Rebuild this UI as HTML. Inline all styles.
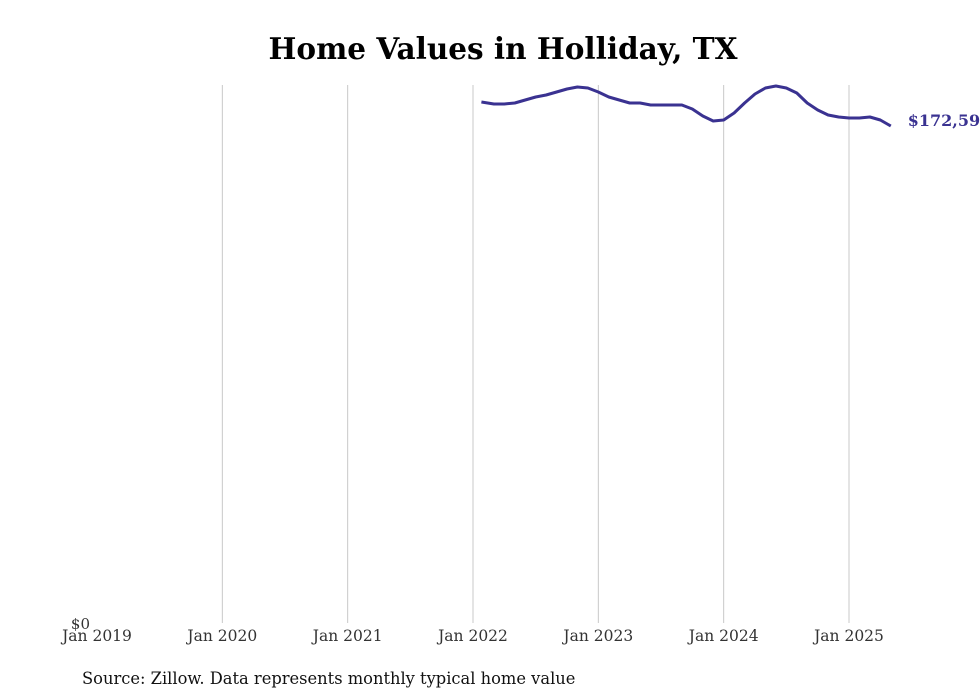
<!DOCTYPE html>
<html><head><meta charset="utf-8"><style>
body{margin:0;background:#fff;}
svg{display:block;font-family:"DejaVu Serif","Liberation Serif",serif;}
</style></head><body>
<svg id="chart" width="980" height="699">
<text x="503" y="59" text-anchor="middle" font-size="29.5" font-weight="bold">Home Values in Holliday, TX</text>
<g id="grid"></g>
<g id="xlabels"></g>
<text x="90" y="629" text-anchor="end" font-size="15" fill="#333">$0</text>
<path id="line" fill="none" stroke="#3a3291" stroke-width="3" stroke-linejoin="round"/>
<text id="endlabel" font-size="16" font-weight="bold" fill="#3a3291"></text>
<text x="82" y="684" font-size="16.3" fill="#111">Source: Zillow. Data represents monthly typical home value</text>
</svg>
<script>
const yearTicks = ["Jan 2019","Jan 2020","Jan 2021","Jan 2022","Jan 2023","Jan 2024","Jan 2025"];
const startMonthIndex = 37; // months since Jan 2019 (Feb 2022)
const values = [180928,180233,180233,180580,181622,182664,183359,184400,185442,186137,185789,184400,182664,181622,180580,180580,179886,179886,179886,179886,178497,176066,174330,174677,177108,180580,183706,185789,186484,185789,184053,180580,178150,176413,175719,175371,175371,175719,174677,172594];
const x0=97, pxPerMonth=(849-97)/72, yBase=623, yTop=85, yMax=186831;
const X=m=>x0+m*pxPerMonth;
const Y=v=>yBase-(v/yMax)*(yBase-yTop);
const svg=document.getElementById('chart');
const ns='http://www.w3.org/2000/svg';
const grid=document.getElementById('grid'), xl=document.getElementById('xlabels');
yearTicks.forEach((t,i)=>{
  const x=X(i*12);
  if(i>0){
    const l=document.createElementNS(ns,'line');
    l.setAttribute('x1',x);l.setAttribute('x2',x);l.setAttribute('y1',yTop);l.setAttribute('y2',yBase);
    l.setAttribute('stroke','#c8c8c8');l.setAttribute('stroke-width','1');
    
    
    grid.appendChild(l);
  }
  const tx=document.createElementNS(ns,'text');
  tx.setAttribute('x',x);tx.setAttribute('y',641);tx.setAttribute('text-anchor','middle');
  tx.setAttribute('font-size','15.5');tx.setAttribute('fill','#333');
  tx.textContent=t;
  
  
  xl.appendChild(tx);
});
document.getElementById('line').setAttribute('d',values.map((v,i)=>(i?'L':'M')+(X(startMonthIndex+i)-(i?0:2)).toFixed(1)+','+Y(v).toFixed(1)).join(''));
const last=values[values.length-1];
const el=document.getElementById('endlabel');
el.setAttribute('x',X(startMonthIndex+values.length-1)+17);
el.setAttribute('y',Y(last));
el.textContent='$'+last.toLocaleString('en-US');
</script>
</body></html>
